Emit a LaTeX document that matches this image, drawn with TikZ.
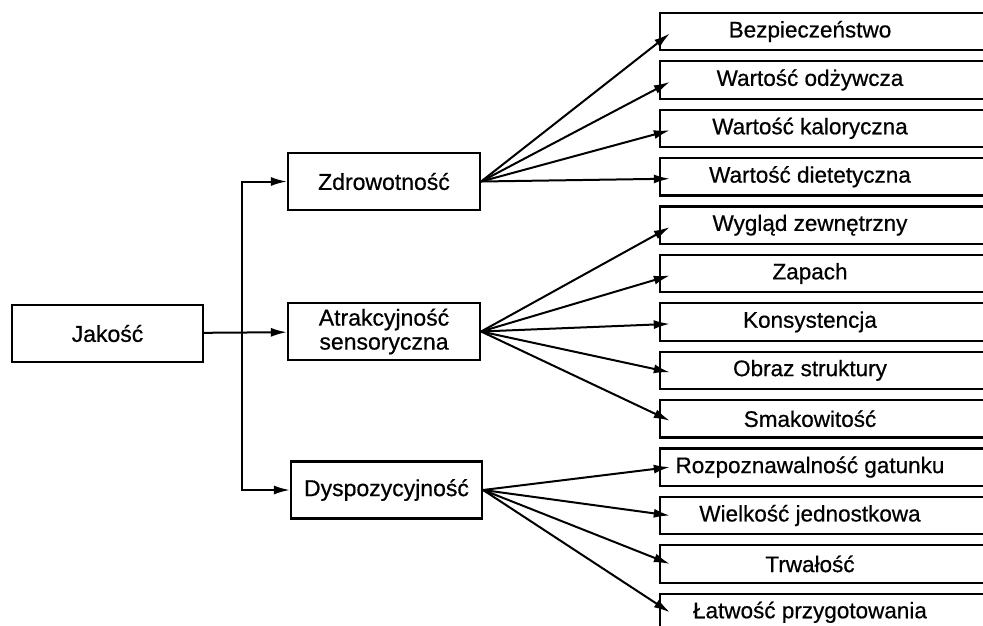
\documentclass[tikz,border=0pt]{standalone}
\usepackage{fontspec}
\setmainfont{Liberation Sans}[FakeBold=0.6]
\usetikzlibrary{arrows.meta}

\begin{document}
\begin{tikzpicture}[x=1pt, y=-1pt, >={Latex[length=16pt,width=9pt]},
    box/.style={draw, line width=2.2pt, minimum height=57pt, inner sep=0pt,
      align=center, font=\fontsize{23}{24}\selectfont},
    leaf/.style={minimum width=280pt, minimum height=37pt, inner sep=0pt,
      font=\fontsize{22.5}{24}\selectfont},
    arr/.style={->, line width=2pt}]
  \useasboundingbox (0,0) rectangle (983,625);
  \clip (0,0) rectangle (983,625);

  % Root and middle level
  \node[box, minimum width=191pt] (jak) at (107.5,333.5) {Jakość};
  \node[box, minimum width=192pt] (zdr) at (384,181.5) {Zdrowotność};
  \node[box, minimum width=192pt] (atr) at (384,331.5) {Atrakcyjność\\sensoryczna};
  \node[box, minimum width=191pt] (dys) at (386.5,490) {Dyspozycyjność};

  % Fork from root
  \coordinate (split) at (242,333.5);
  \draw[arr] (jak) -- (atr);
  \draw[arr] (split) |- (zdr);
  \draw[arr] (split) |- (dys);

  % Right-hand boxes (open to the right edge)
  \foreach \i/\txt in {1/Bezpieczeństwo, 2/Wartość odżywcza, 3/Wartość kaloryczna,
      4/Wartość dietetyczna, 5/Wygląd zewnętrzny, 6/Zapach, 7/Konsystencja,
      8/Obraz struktury, 9/Smakowitość, 10/Rozpoznawalność gatunku,
      11/Wielkość jednostkowa, 12/Trwałość, 13/Łatwość przygotowania} {
    \node[leaf] (r\i) at (810,{31.5+48.4*(\i-1)}) {\txt};
    \draw[line width=2.2pt] ([xshift=-150pt]r\i.north) rectangle ([xshift=200pt]r\i.south);
  }

  % Arrows to the right-hand boxes
  \foreach \i in {1,...,4}
    \draw[arr] (zdr.east) -- ([yshift=-2pt]r\i.west);
  \foreach \i in {5,...,9}
    \draw[arr] (atr.east) -- ([yshift=-2pt]r\i.west);
  \foreach \i in {10,...,13}
    \draw[arr] (dys.east) -- (r\i.west);
\end{tikzpicture}
\end{document}
